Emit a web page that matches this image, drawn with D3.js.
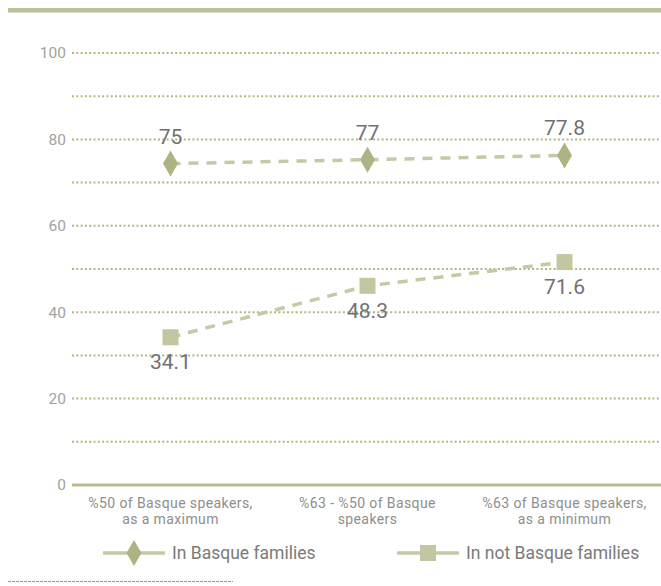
<!DOCTYPE html>
<html>
<head>
<meta charset="utf-8">
<script src="https://cdn.jsdelivr.net/npm/d3@7"></script>
<style>
  body { margin: 0; background: #fff; }
  svg { display: block; font-family: Roboto, "Liberation Sans", sans-serif; }
</style>
</head>
<body>
<div id="chart"></div>
<script>
// categories (two lines each)
var categories = ["c1", "c2", "c3"];
var categoryLines = [
  ["%50 of Basque speakers,", "as a maximum"],
  ["%63 - %50 of Basque", "speakers"],
  ["%63 of Basque speakers,", "as a minimum"]
];

var basqueValues = [74.4, 75.3, 76.3];
var basqueLabels = ["75", "77", "77.8"];
var notBasqueValues = [34.2, 46.1, 51.6];
var notBasqueLabels = ["34.1", "48.3", "71.6"];

var yTicks = [0, 20, 40, 60, 80, 100];
var gridValues = [10, 20, 30, 40, 50, 60, 70, 80, 90, 100];

var width = 661, height = 586;
var plotLeft = 72, plotRight = 663, plotTop = 53, plotBottom = 485;

var lineCol = "#c6c9a5";

var svg = d3.select("#chart").append("svg")
  .attr("width", width)
  .attr("height", height);

var x = d3.scalePoint()
  .domain(categories)
  .range([plotLeft, plotRight])
  .padding(0.5);

var y = d3.scaleLinear()
  .domain([0, 100])
  .range([plotBottom, plotTop]);

// top bar
svg.append("rect")
  .attr("x", 8).attr("y", 8)
  .attr("width", width - 8).attr("height", 4.5)
  .attr("fill", "#bcbf98");

// dotted gridlines
svg.append("g").selectAll("line")
  .data(gridValues)
  .enter().append("line")
  .attr("x1", plotLeft).attr("x2", width)
  .attr("y1", function (d) { return y(d); })
  .attr("y2", function (d) { return y(d); })
  .attr("stroke", "#b3b77f")
  .attr("stroke-width", 2)
  .attr("stroke-dasharray", "2,2.3");

// zero line
svg.append("line")
  .attr("x1", plotLeft).attr("x2", width)
  .attr("y1", y(0)).attr("y2", y(0))
  .attr("stroke", "#b9bc92")
  .attr("stroke-width", 3);

// y axis labels
svg.append("g").selectAll("text")
  .data(yTicks)
  .enter().append("text")
  .attr("x", 66)
  .attr("y", function (d) { return y(d); })
  .attr("dy", "0.35em")
  .attr("text-anchor", "end")
  .attr("font-size", 15.5)
  .attr("fill", "#a2a2a2")
  .text(function (d) { return d; });

// category labels
var cat = svg.append("g").selectAll("text")
  .data(categories)
  .enter().append("text")
  .attr("text-anchor", "middle")
  .attr("font-size", 14)
  .attr("letter-spacing", 0.4)
  .attr("fill", "#8e8e8e");
cat.each(function (d, i) {
  var t = d3.select(this);
  categoryLines[i].forEach(function (ln, j) {
    t.append("tspan")
      .attr("x", x(d))
      .attr("y", 508 + j * 16)
      .text(ln);
  });
});

var line = d3.line()
  .x(function (d, i) { return x(categories[i]); })
  .y(function (d) { return y(d); });

function drawSeries(values, labels, shape, fill, labelDy) {
  svg.append("path")
    .datum(values)
    .attr("d", line)
    .attr("fill", "none")
    .attr("stroke", lineCol)
    .attr("stroke-width", 3.5)
    .attr("stroke-dasharray", "10,8");

  svg.append("g").selectAll("path")
    .data(values)
    .enter().append("path")
    .attr("transform", function (d, i) {
      return "translate(" + x(categories[i]) + "," + y(d) + ")";
    })
    .attr("d", shape)
    .attr("fill", fill);

  svg.append("g").selectAll("text")
    .data(values)
    .enter().append("text")
    .attr("x", function (d, i) { return x(categories[i]); })
    .attr("y", function (d) { return y(d) + labelDy; })
    .attr("text-anchor", "middle")
    .attr("font-size", 21)
    .attr("fill", "#707174")
    .text(function (d, i) { return labels[i]; });
}

var diamond = "M0,-13L7.5,0L0,13L-7.5,0Z";
var square = "M-8,-8H8V8H-8Z";

drawSeries(basqueValues, basqueLabels, diamond, "#afb283", -20);
drawSeries(notBasqueValues, notBasqueLabels, square, "#c3c6a1", 32);

// legend
var legend = [
  { x: 103, label: "In Basque families", shape: diamond, fill: "#afb283" },
  { x: 397, label: "In not Basque families", shape: square, fill: "#c3c6a1" }
];
var lg = svg.append("g").selectAll("g")
  .data(legend)
  .enter().append("g")
  .attr("transform", function (d) { return "translate(" + d.x + ",553)"; });
lg.append("line")
  .attr("x1", 0).attr("x2", 62)
  .attr("stroke", lineCol)
  .attr("stroke-width", 3.5);
lg.append("path")
  .attr("transform", "translate(31,0)")
  .attr("d", function (d) { return d.shape; })
  .attr("fill", function (d) { return d.fill; });
lg.append("text")
  .attr("x", 69)
  .attr("dy", "0.35em")
  .attr("font-size", 17.5)
  .attr("fill", "#7a7a7a")
  .text(function (d) { return d.label; });

// footnote rule
svg.append("line")
  .attr("x1", 8).attr("x2", 233)
  .attr("y1", 581.5).attr("y2", 581.5)
  .attr("stroke", "#999")
  .attr("stroke-width", 1)
  .attr("stroke-dasharray", "3,1");
</script>
</body>
</html>
